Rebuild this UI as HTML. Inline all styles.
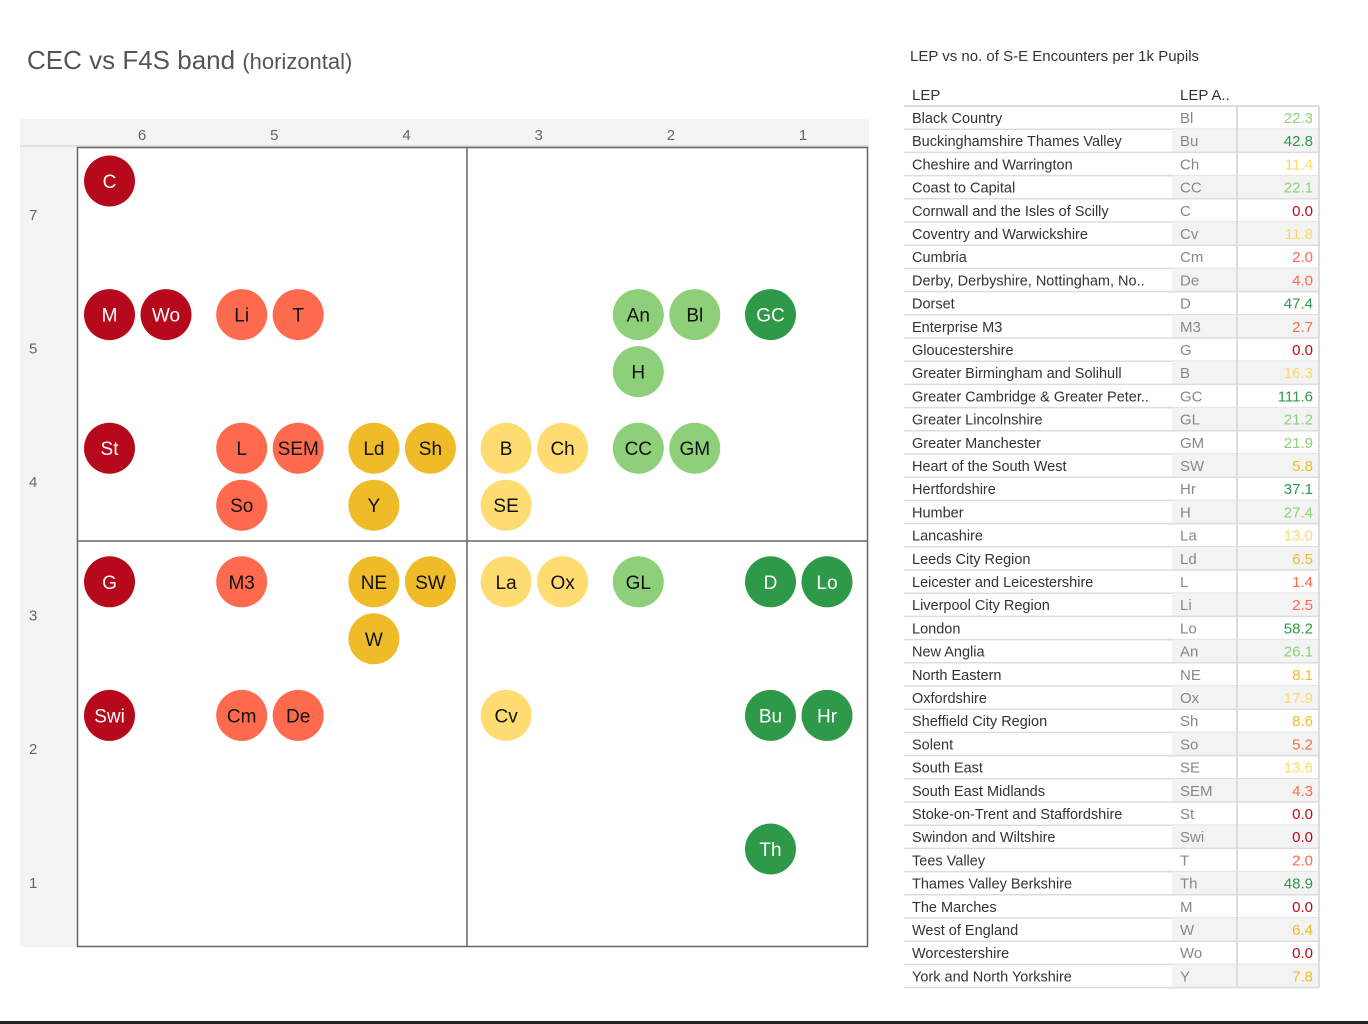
<!DOCTYPE html>
<html><head><meta charset="utf-8">
<style>
body{margin:0;background:#fff;width:1368px;height:1024px;overflow:hidden;font-family:"Liberation Sans",sans-serif;}
svg{position:absolute;left:0;top:0;}
</style></head>
<body>
<svg id="s" width="1368" height="1024"></svg>
<script>
const names=["Black Country","Buckinghamshire Thames Valley","Cheshire and Warrington","Coast to Capital","Cornwall and the Isles of Scilly","Coventry and Warwickshire","Cumbria","Derby, Derbyshire, Nottingham, No..","Dorset","Enterprise M3","Gloucestershire","Greater Birmingham and Solihull","Greater Cambridge & Greater Peter..","Greater Lincolnshire","Greater Manchester","Heart of the South West","Hertfordshire","Humber","Lancashire","Leeds City Region","Leicester and Leicestershire","Liverpool City Region","London","New Anglia","North Eastern","Oxfordshire","Sheffield City Region","Solent","South East","South East Midlands","Stoke-on-Trent and Staffordshire","Swindon and Wiltshire","Tees Valley","Thames Valley Berkshire","The Marches","West of England","Worcestershire","York and North Yorkshire"];
const abbrs=["Bl","Bu","Ch","CC","C","Cv","Cm","De","D","M3","G","B","GC","GL","GM","SW","Hr","H","La","Ld","L","Li","Lo","An","NE","Ox","Sh","So","SE","SEM","St","Swi","T","Th","M","W","Wo","Y"];
const values=[22.3,42.8,11.4,22.1,0.0,11.8,2.0,4.0,47.4,2.7,0.0,16.3,111.6,21.2,21.9,5.8,37.1,27.4,13.0,6.5,1.4,2.5,58.2,26.1,8.1,17.9,8.6,5.2,13.6,4.3,0.0,0.0,2.0,48.9,0.0,6.4,0.0,7.8];
const cecBand=[2,1,3,2,6,3,5,5,1,5,6,3,1,2,2,4,1,2,3,4,5,5,1,2,4,3,4,5,3,5,6,6,5,1,6,4,6,4];
const f4sBand=[5,2,4,4,7,2,2,2,3,3,3,4,5,3,4,3,2,5,3,4,4,5,3,5,3,3,4,4,4,4,4,2,5,1,5,3,5,4];
const slots=[1,0,1,0,0,0,0,1,0,0,0,0,0,0,1,1,1,2,0,0,0,0,1,0,0,1,1,2,2,1,0,0,1,0,0,2,1,2];
const colTicks=[6,5,4,3,2,1];
const rowTicks=[7,5,4,3,2,1];

const S=document.getElementById('s');const NS='http://www.w3.org/2000/svg';
function mk(t,a,p){const e=document.createElementNS(NS,t);for(const k in a)e.setAttribute(k,a[k]);(p||S).appendChild(e);return e;}
function color(v){if(v<=0)return'#b60a1c';if(v<5.5)return'#fe6a4d';if(v<10)return'#f0bb29';if(v<20)return'#ffdc72';if(v<30)return'#8ecf79';return'#2f994a';}
const PL=77,PT=147,CW=132.2,RH=133.6;
function xCell(b){return PL+colTicks.indexOf(b)*CW;}
function yCell(b){return PT+rowTicks.indexOf(b)*RH;}

let t=mk('text',{x:27,y:69,'font-size':26,fill:'#555'});t.textContent='CEC vs F4S band ';

let ts=mk('tspan',{'font-size':22},t);ts.textContent='(horizontal)';
let hb=mk('rect',{x:20,y:119,width:849,height:27,fill:'#f4f4f4'});

let lb=mk('rect',{x:20,y:146,width:57,height:801,fill:'#f4f4f4'});

mk('line',{x1:20,y1:146,x2:869,y2:146,stroke:'#ccc'});
colTicks.forEach((c,i)=>{const e=mk('text',{x:xCell(c)+CW/2-1,y:140,'font-size':15,fill:'#666','text-anchor':'middle'});e.textContent=c;
});
rowTicks.forEach((r,i)=>{const e=mk('text',{x:29,y:yCell(r)+RH/2+6,'font-size':15,fill:'#666'});e.textContent=r;
});
let pr=mk('rect',{x:77.5,y:147.5,width:790,height:799,fill:'#fff',stroke:'#666','stroke-width':1.5});

let vl=mk('line',{x1:467,y1:147,x2:467,y2:947,stroke:'#666','stroke-width':1.5});

let hl=mk('line',{x1:77,y1:541,x2:868,y2:541,stroke:'#666','stroke-width':1.5});


abbrs.forEach((a,i)=>{const s=slots[i];const cx=xCell(cecBand[i])+32.5+(s%2)*56.5;const cy=yCell(f4sBand[i])+34+Math.floor(s/2)*57;
const g=mk('g',{});


const c=color(values[i]);
mk('circle',{cx:cx,cy:cy,r:25.5,fill:c},g);
const dark=(c==='#b60a1c'||c==='#2f994a');
const e=mk('text',{x:cx,y:cy+7,'font-size':19,fill:dark?'#fff':'#111','text-anchor':'middle'},g);e.textContent=a;});

let tt=mk('text',{x:910,y:61,'font-size':15,fill:'#333'});tt.textContent='LEP vs no. of S-E Encounters per 1k Pupils';

let h1=mk('text',{x:912,y:100,'font-size':15,fill:'#333'});h1.textContent='LEP';

let h2=mk('text',{x:1180,y:100,'font-size':15,fill:'#333'});h2.textContent='LEP A..';

const R0=106,RR=23.2;
mk('line',{x1:904,y1:R0,x2:1319,y2:R0,stroke:'#ddd','stroke-width':2});
names.forEach((n,i)=>{const y=R0+i*RR;const g=mk('g',{});

if(i%2===1)mk('rect',{x:1172,y:y,width:147,height:RR,fill:'#f3f3f3'},g);
mk('line',{x1:904,y1:y+RR,x2:1319,y2:y+RR,stroke:'#ddd','stroke-width':1.5},g);
let a=mk('text',{x:912,y:y+17,'font-size':14.5,fill:'#333'},g);a.textContent=n;
let b=mk('text',{x:1180,y:y+17,'font-size':15,fill:'#888'},g);b.textContent=abbrs[i];
let v=values[i];let c=color(v);if(c==='#ffdc72')c='#fdd86a';
let d=mk('text',{x:1313,y:y+17,'font-size':15,fill:c,'text-anchor':'end'},g);d.textContent=v.toFixed(1);});
mk('line',{x1:1237,y1:R0,x2:1237,y2:R0+38*RR,stroke:'#ddd','stroke-width':2});
mk('line',{x1:1319,y1:R0,x2:1319,y2:R0+38*RR,stroke:'#ddd','stroke-width':2});
let bb=mk('rect',{x:0,y:1021,width:1368,height:3,fill:'#222'});

</script>
</body></html>
